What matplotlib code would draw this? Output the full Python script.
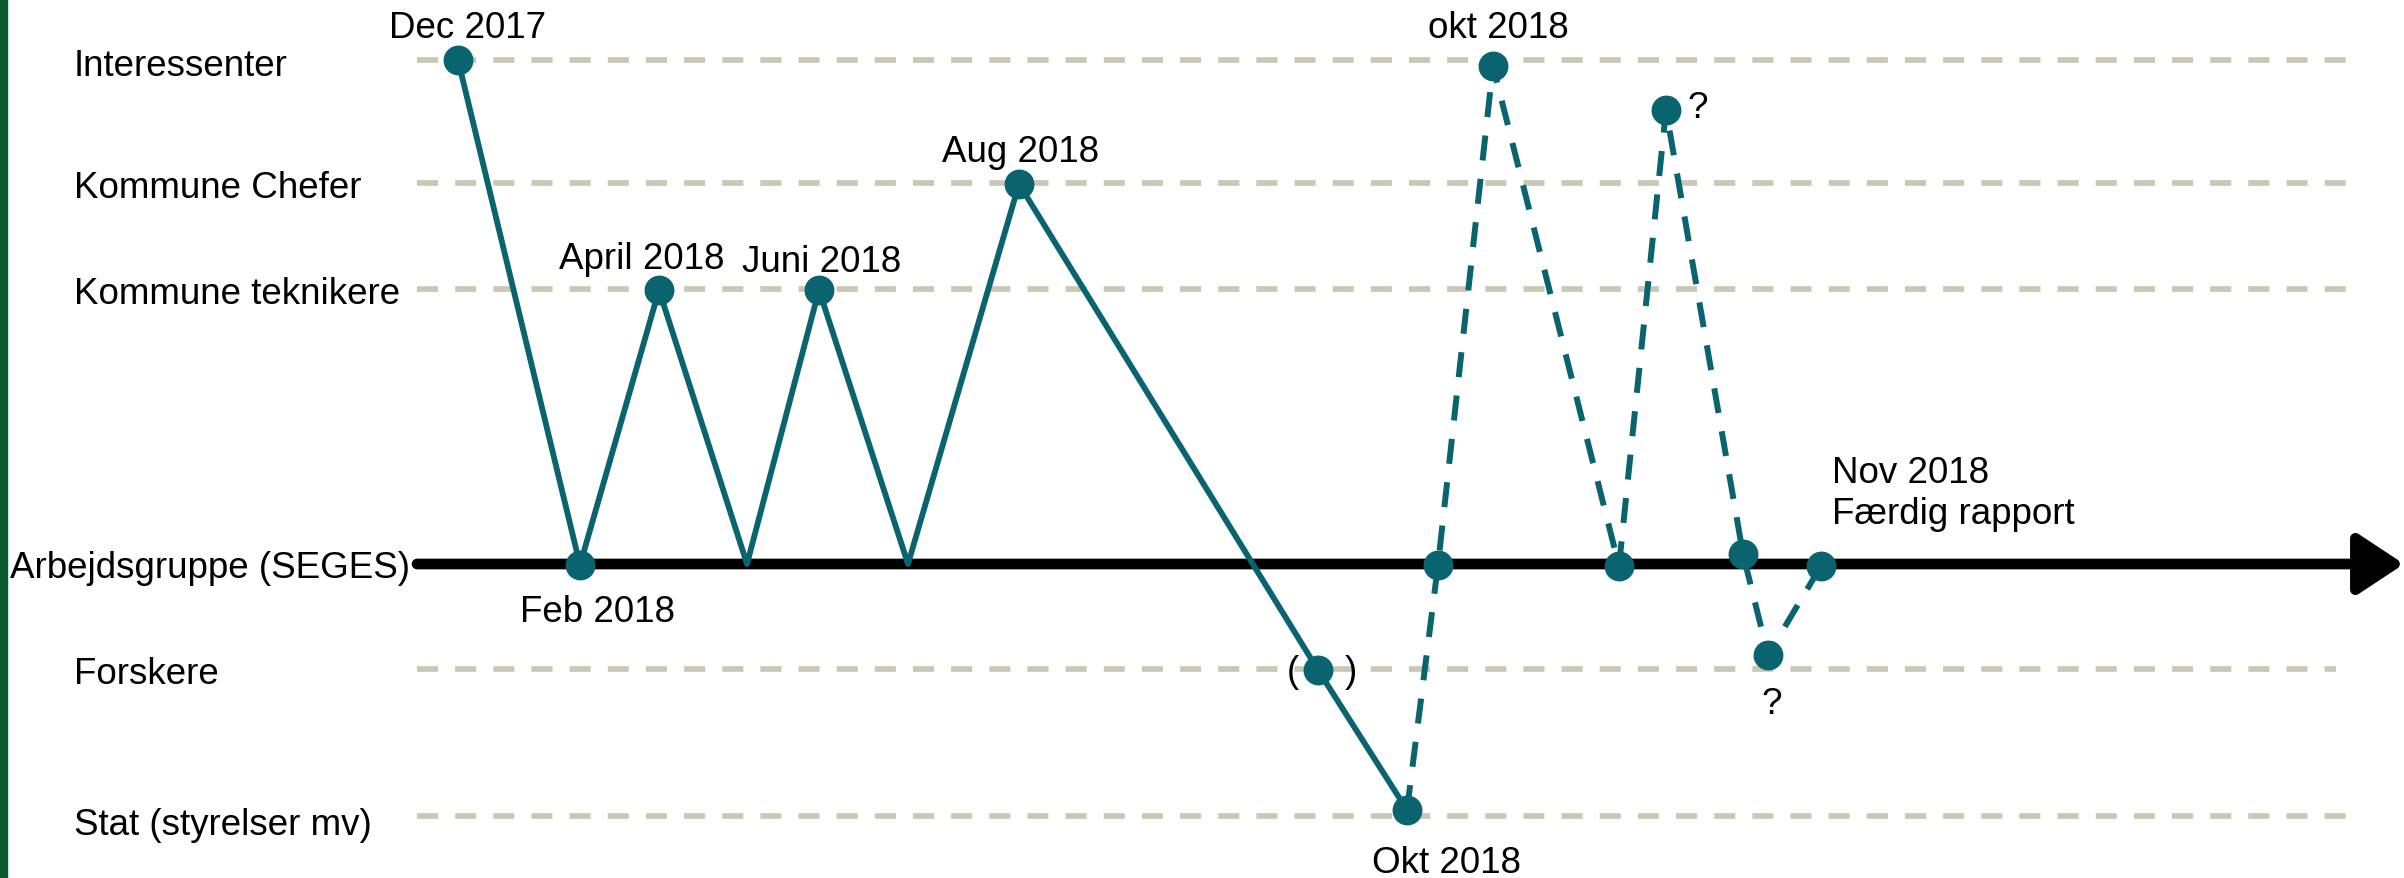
import matplotlib.pyplot as plt
from matplotlib.patches import ArrowStyle

plt.rcParams['font.family'] = ['Liberation Sans', 'DejaVu Sans']

# lanes (name, vertical level)
lane_names = ['Interessenter', 'Kommune Chefer', 'Kommune teknikere',
              'Arbejdsgruppe (SEGES)', 'Forskere', 'Stat (styrelser mv)']
lane_y = [61, 184, 290, 565, 670, 817]
lane_end = [2346, 2346, 2346, 2404, 2336, 2346]
label_dy = [5, 5, 5, 4, 5, 9]

# solid part of the process
solid_x = [458, 580, 659, 747, 819, 908, 1019, 1318, 1407]
solid_y = [61, 566, 291, 565, 291, 565, 185, 671, 811]
solid_marker = [1, 1, 1, 0, 1, 0, 1, 1, 1]

# dashed (planned) part
dash_x = [1407, 1438, 1493, 1619, 1666, 1743, 1768, 1821]
dash_y = [811, 566, 67, 567, 111, 555, 656, 567]

# annotations
notes = ['Dec 2017', 'Feb 2018', 'April 2018', 'Juni 2018', 'Aug 2018',
         '(', ')', 'Okt 2018', 'okt 2018', '?', '?']
note_x = [468, 598, 642, 822, 1021, 1293, 1351, 1446, 1498, 1698, 1772]
note_y = [29, 613, 260, 263, 152, 673, 673, 864, 29, 109, 705]

teal = '#0a6470'
guide = '#c8c8b4'

fig = plt.figure(figsize=(24.04, 8.79), dpi=100)
ax = fig.add_axes([0, 0, 1, 1])
ax.set_xlim(0, 2404)
ax.set_ylim(879, 0)
ax.axis('off')

ax.axvspan(0, 7, color='#0b5a2e')

x0 = 417
for name, y, xe, dy in zip(lane_names, lane_y, lane_end, label_dy):
    if name.startswith('Arbejds'):
        ax.annotate('', xy=(xe, y), xytext=(x0, y),
                    arrowprops=dict(arrowstyle=ArrowStyle('-|>', head_length=2.8, head_width=1.85),
                                    mutation_scale=10, lw=7.7, color='black',
                                    shrinkA=0, shrinkB=0), zorder=2)
        ax.text(10, y + dy, name, fontsize=26.5, ha='left', va='center')
    else:
        ax.plot([x0, xe], [y, y], color=guide, lw=4.1, dashes=(3.7, 3.0), zorder=1)
        ax.text(74, y + dy, name, fontsize=26.5, ha='left', va='center')

ax.plot(solid_x, solid_y, color=teal, lw=4.2, zorder=3)
ax.plot(dash_x, dash_y, color=teal, lw=4.3, dashes=(4.2, 3.1), zorder=3)

mx = [x for x, m in zip(solid_x, solid_marker) if m] + dash_x[1:]
my = [y for y, m in zip(solid_y, solid_marker) if m] + dash_y[1:]
ax.plot(mx, my, 'o', color=teal, ms=20.5, zorder=4, linestyle='none')

for t, x, y in zip(notes, note_x, note_y):
    ax.text(x, y, t, fontsize=26.5, ha='center', va='center')

ax.text(1832, 494, 'Nov 2018\nFærdig rapport', fontsize=26.5, ha='left', va='center',
        linespacing=1.25)

fig.savefig('out.png', dpi=100)
